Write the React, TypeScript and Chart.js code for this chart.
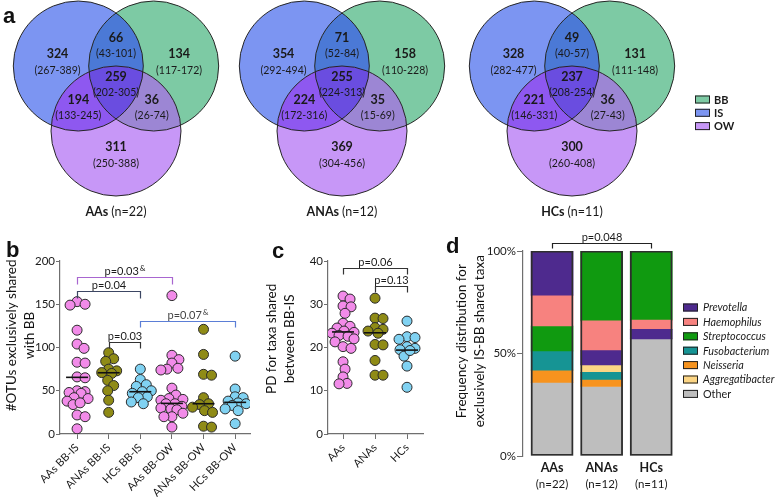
import React, { useEffect, useRef } from 'react';
import { Chart, registerables } from 'chart.js';
Chart.register(...registerables);

const FONT = 'Lato, "Open Sans", "DejaVu Sans", sans-serif';
const LETTER_FONT = '"Liberation Sans", Arial, sans-serif';

// ---------------- Panel a: Venn diagrams ----------------
const vennSetNames = ['BB', 'IS', 'OW'];
const vennGroups = ['AAs', 'ANAs', 'HCs'];
const vennGroupN = ['(n=22)', '(n=12)', '(n=11)'];
// region order: IS only, IS∩BB, BB only, IS∩BB∩OW, IS∩OW, BB∩OW, OW only
const aasVennCounts = [324, 66, 134, 259, 194, 36, 311];
const aasVennRanges = ['(267-389)', '(43-101)', '(117-172)', '(202-305)', '(133-245)', '(26-74)', '(250-388)'];
const anasVennCounts = [354, 71, 158, 255, 224, 35, 369];
const anasVennRanges = ['(292-494)', '(52-84)', '(110-228)', '(224-313)', '(172-316)', '(15-69)', '(304-456)'];
const hcsVennCounts = [328, 49, 131, 237, 221, 36, 300];
const hcsVennRanges = ['(282-477)', '(40-57)', '(111-148)', '(208-254)', '(146-331)', '(27-43)', '(260-408)'];

// ---------------- Panel b: #OTUs exclusively shared with BB ----------------
const otuCategories = ['AAs BB-IS', 'ANAs BB-IS', 'HCs BB-IS', 'AAs BB-OW', 'ANAs BB-OW', 'HCs BB-OW'];
const otuAAsBBIS = [153, 150, 149, 120, 104, 99, 83, 82, 66, 65, 50, 49, 48, 47, 42, 41, 38, 34, 22, 20, 6, 36];
const otuANAsBBIS = [94, 87, 84, 75, 73, 71, 70, 62, 56, 50, 39, 25];
const otuHCsBBIS = [75, 63, 57, 55, 50, 49, 47, 43, 42, 37, 35];
const otuAAsBBOW = [160, 91, 86, 82, 76, 75, 74, 53, 45, 41, 40, 39, 35, 35, 32, 30, 29, 28, 24, 20, 20, 8];
const otuANAsBBOW = [121, 92, 69, 68, 42, 35, 34, 31, 27, 25, 9, 8];
const otuHCsBBOW = [90, 52, 43, 42, 38, 36, 35, 33, 29, 27, 12];
const otuMeans = [65.5, 70.8, 48.9, 35.4, 35, 36.6];
const otuYTicksMax = 200;

// ---------------- Panel c: PD for taxa shared between BB-IS ----------------
const pdCategories = ['AAs', 'ANAs', 'HCs'];
const pdAAs = [31.9, 31.2, 29.6, 29.4, 27.9, 25.6, 24.9, 24.5, 23.8, 23.5, 23.3, 22.8, 22.6, 22.0, 21.3, 20.2, 19.8, 16.7, 15.0, 13.2, 11.7, 11.6];
const pdANAs = [31.4, 26.8, 26.7, 24.6, 24.2, 23.8, 23.3, 20.7, 20.6, 17.0, 13.6, 13.6];
const pdHCs = [26.1, 22.5, 22.3, 21.9, 20.2, 19.8, 19.5, 18.0, 15.7, 10.8, 19.3];
const pdMeans = [23.6, 23.4, 19.4];
const pdYTicksMax = 40;

// ---------------- Panel d: frequency distribution ----------------
const freqGroups = ['AAs', 'ANAs', 'HCs'];
const freqGroupN = ['(n=22)', '(n=12)', '(n=11)'];
const taxa = ['Prevotella', 'Haemophilus', 'Streptococcus', 'Fusobacterium', 'Neisseria', 'Aggregatibacter', 'Other'];
const prevotellaPct = [21.5, 7.0, 4.7];
const haemophilusPct = [15.1, 14.5, 4.5];
const streptococcusPct = [12.2, 34.1, 33.7];
const fusobacteriumPct = [9.3, 3.4, 0];
const neisseriaPct = [6.0, 3.5, 0];
const aggregatibacterPct = [0, 3.6, 0];
const otherPct = [35.9, 33.9, 57.1];
const stackOrderAAs = ['Other', 'Neisseria', 'Fusobacterium', 'Streptococcus', 'Haemophilus', 'Prevotella'];
const stackOrderANAs = ['Other', 'Neisseria', 'Fusobacterium', 'Aggregatibacter', 'Prevotella', 'Haemophilus', 'Streptococcus'];
const stackOrderHCs = ['Other', 'Prevotella', 'Haemophilus', 'Streptococcus'];

// ---------------- styles ----------------
const VENN_COLORS: Record<string, string> = {
  IS: '#7C95F2', BB: '#7DCAA4', OW: '#C797F7',
  ISBB: '#4B79D6', ISOW: '#8E58F0', BBOW: '#9C86D4', ALL: '#6A4DE0',
};
const VENN_GEOM: Record<string, [number, number]> = { IS: [-0.58, 0], BB: [0.58, 0], OW: [0, -1.0] };
const VENN_LABEL_POS: Array<[number, number]> = [[-0.9, 0.18], [0, 0.43], [0.97, 0.18], [0, -0.17], [-0.58, -0.52], [0.55, -0.52], [0, -1.25]];
const VENN_PX = 65;
const GROUP_COLORS = ['#F28BE9', '#8F8B16', '#80D2F2'];
const TAXA_COLORS = ['#4E2A8E', '#F7827F', '#109A10', '#169494', '#F7931E', '#FCD584', '#BEBEBE'];
const AXIS_COLOR = '#6f6f6f';

type Bracket = { from: number; to: number; level: number; label: string; sup?: string; color: string; textColor: string; leg: number };

function swarm(values: number[], pxX: number, pxY: number, dist: number, maxOff: number): number[] {
  const idx = values.map((_, i) => i).sort((a, b) => values[b] - values[a]);
  const placed: Array<[number, number]> = [];
  const offs = new Array(values.length).fill(0);
  for (const i of idx) {
    const yy = values[i] * pxY;
    let chosen = 0;
    let best = Infinity;
    for (let k = 0; k <= 2 * maxOff; k++) {
      const c = k === 0 ? 0 : (k % 2 ? 1 : -1) * Math.ceil(k / 2);
      let overlap = 0;
      for (const [px, py] of placed) {
        const d = Math.hypot(px - c, py - yy);
        if (d < dist) overlap = Math.max(overlap, dist - d);
      }
      if (overlap === 0) { chosen = c; best = 0; break; }
      if (overlap < best) { best = overlap; chosen = c; }
    }
    placed.push([chosen, yy]);
    offs[i] = chosen / pxX;
  }
  return offs;
}

function bracketPlugin(items: Bracket[]) {
  return {
    id: 'brackets',
    afterDraw(chart: any) {
      const { ctx } = chart;
      const xs = chart.scales.x;
      const ys = chart.scales.y;
      ctx.save();
      for (const b of items) {
        const x1 = Math.round(xs.getPixelForValue(b.from)) + 0.5;
        const x2 = Math.round(xs.getPixelForValue(b.to)) + 0.5;
        const y = Math.round(ys.getPixelForValue(b.level)) + 0.5;
        ctx.strokeStyle = b.color;
        ctx.lineWidth = 1.2;
        ctx.beginPath();
        ctx.moveTo(x1, y + b.leg);
        ctx.lineTo(x1, y);
        ctx.lineTo(x2, y);
        ctx.lineTo(x2, y + b.leg);
        ctx.stroke();
        ctx.font = `11px ${FONT}`;
        const w = ctx.measureText(b.label).width;
        ctx.font = `8px ${FONT}`;
        const sw = b.sup ? ctx.measureText(b.sup).width + 1 : 0;
        const cx = (x1 + x2) / 2;
        const start = cx - (w + sw) / 2;
        ctx.fillStyle = b.textColor;
        ctx.textAlign = 'left';
        ctx.textBaseline = 'alphabetic';
        ctx.font = `11px ${FONT}`;
        ctx.fillText(b.label, start, y - 3);
        if (b.sup) {
          ctx.font = `8px ${FONT}`;
          ctx.fillText(b.sup, start + w + 1, y - 7);
        }
      }
      ctx.restore();
    },
  };
}

function yTitlePlugin(lines: string[], firstX: number, gap: number, frac: number, size: number) {
  return {
    id: 'ytitle',
    afterDraw(chart: any) {
      const { ctx, chartArea } = chart;
      const cy = chartArea.top + frac * (chartArea.bottom - chartArea.top);
      ctx.save();
      ctx.font = `${size}px ${FONT}`;
      ctx.fillStyle = '#111';
      ctx.textAlign = 'center';
      ctx.textBaseline = 'middle';
      lines.forEach((l, i) => {
        ctx.save();
        ctx.translate(firstX + i * gap, cy);
        ctx.rotate(-Math.PI / 2);
        ctx.fillText(l, 0, 0);
        ctx.restore();
      });
      ctx.restore();
    },
  };
}

function vennPlugin(counts: number[], ranges: string[], group: string, n: string, withLegend: boolean) {
  return {
    id: 'venn',
    afterDraw(chart: any) {
      const { ctx } = chart;
      const xs = chart.scales.x;
      const ys = chart.scales.y;
      const rx = xs.getPixelForValue(1) - xs.getPixelForValue(0);
      const ry = ys.getPixelForValue(0) - ys.getPixelForValue(1);
      const path = (k: string) => {
        const [cx, cy] = VENN_GEOM[k];
        ctx.beginPath();
        ctx.ellipse(xs.getPixelForValue(cx), ys.getPixelForValue(cy), rx, ry, 0, 0, Math.PI * 2);
      };
      const fill = (k: string, color: string, clips: string[]) => {
        ctx.save();
        for (const c of clips) { path(c); ctx.clip(); }
        path(k);
        ctx.fillStyle = color;
        ctx.fill();
        ctx.restore();
      };
      fill('IS', VENN_COLORS.IS, []);
      fill('BB', VENN_COLORS.BB, []);
      fill('OW', VENN_COLORS.OW, []);
      fill('BB', VENN_COLORS.ISBB, ['IS']);
      fill('OW', VENN_COLORS.ISOW, ['IS']);
      fill('OW', VENN_COLORS.BBOW, ['BB']);
      fill('OW', VENN_COLORS.ALL, ['IS', 'BB']);
      ctx.save();
      ctx.strokeStyle = '#262626';
      ctx.lineWidth = 1;
      ['IS', 'BB', 'OW'].forEach((k) => { path(k); ctx.stroke(); });
      ctx.restore();

      ctx.save();
      ctx.fillStyle = '#1a1a1a';
      ctx.textAlign = 'center';
      ctx.textBaseline = 'middle';
      counts.forEach((c, i) => {
        const [ux, uy] = VENN_LABEL_POS[i];
        const px = xs.getPixelForValue(ux);
        const py = ys.getPixelForValue(uy);
        ctx.font = `bold 12.5px ${FONT}`;
        ctx.fillText(String(c), px, py);
        ctx.font = `10.5px ${FONT}`;
        ctx.fillText(ranges[i], px, py + 16);
      });
      const gx = xs.getPixelForValue(0);
      const gy = ys.getPixelForValue(-2.25);
      ctx.font = `bold 12.5px ${FONT}`;
      const w1 = ctx.measureText(group + ' ').width;
      ctx.font = `12.5px ${FONT}`;
      const w2 = ctx.measureText(n).width;
      const st = gx - (w1 + w2) / 2;
      ctx.textAlign = 'left';
      ctx.font = `bold 12.5px ${FONT}`;
      ctx.fillText(group, st, gy);
      ctx.font = `12.5px ${FONT}`;
      ctx.fillText(n, st + w1, gy);
      ctx.restore();

      if (withLegend) {
        ctx.save();
        vennSetNames.forEach((name, i) => {
          const cy = 99.5 + i * 13.3;
          ctx.fillStyle = VENN_COLORS[name];
          ctx.fillRect(236, cy - 4, 15, 8);
          ctx.strokeStyle = '#222';
          ctx.lineWidth = 1;
          ctx.strokeRect(236.5, cy - 3.5, 14, 7);
          ctx.fillStyle = '#1a1a1a';
          ctx.font = `bold 11px ${FONT}`;
          ctx.textAlign = 'left';
          ctx.textBaseline = 'middle';
          ctx.fillText(name, 255, cy + 0.5);
        });
        ctx.restore();
      }
    },
  };
}

function buildVenn(canvas: HTMLCanvasElement, idx: number, width: number, height: number) {
  const counts = [aasVennCounts, anasVennCounts, hcsVennCounts][idx];
  const ranges = [aasVennRanges, anasVennRanges, hcsVennRanges][idx];
  return new Chart(canvas, {
    type: 'scatter',
    data: { datasets: [] },
    options: {
      animation: false, responsive: false, devicePixelRatio: 1,
      layout: { padding: 0 },
      plugins: { legend: { display: false }, tooltip: { enabled: false } },
      scales: {
        x: { type: 'linear', display: false, min: -113 / VENN_PX, max: (width - 113) / VENN_PX },
        y: { type: 'linear', display: false, min: -(height - 66) / VENN_PX, max: 66 / VENN_PX },
      },
    },
    plugins: [vennPlugin(counts, ranges, vennGroups[idx], vennGroupN[idx], idx === 2)],
  } as any);
}

type DotCfg = {
  cats: string[]; groups: number[][]; means: number[]; colors: string[];
  yMax: number; yStep: number; xMin: number; xMax: number;
  width: number; height: number; padTop: number; padRight: number; yWidth: number; xHeight: number;
  brackets: Bracket[]; title: string[]; titleX: number; titleFrac: number;
};

function buildDotPlot(canvas: HTMLCanvasElement, cfg: DotCfg) {
  const plotW = cfg.width - cfg.padRight - cfg.yWidth;
  const plotH = cfg.height - cfg.padTop - cfg.xHeight;
  const pxX = plotW / (cfg.xMax - cfg.xMin);
  const pxY = plotH / cfg.yMax;
  const halfLine = 11 / pxX;
  const pointSets = cfg.groups.map((vals, gi) => {
    const offs = swarm(vals, pxX, pxY, 7.6, 11);
    return {
      type: 'scatter',
      data: vals.map((v, i) => ({ x: gi + offs[i], y: v })),
      backgroundColor: cfg.colors[gi],
      borderColor: '#2b2b2b',
      borderWidth: 1,
      pointRadius: 5,
      pointHoverRadius: 5,
      order: 2,
    };
  });
  const meanSets = cfg.means.map((m, gi) => ({
    type: 'line',
    data: [{ x: gi - halfLine, y: m }, { x: gi + halfLine, y: m }],
    borderColor: '#111',
    borderWidth: 1.6,
    pointRadius: 0,
    fill: false,
    order: 1,
  }));
  return new Chart(canvas, {
    type: 'scatter',
    data: { datasets: [...meanSets, ...pointSets] },
    options: {
      animation: false, responsive: false, devicePixelRatio: 1,
      layout: { padding: { top: cfg.padTop, right: cfg.padRight, left: 0, bottom: 0 } },
      plugins: { legend: { display: false }, tooltip: { enabled: false } },
      scales: {
        x: {
          type: 'linear', min: cfg.xMin, max: cfg.xMax,
          afterBuildTicks: (s: any) => { s.ticks = cfg.cats.map((_, i) => ({ value: i })); },
          afterFit: (s: any) => { s.height = cfg.xHeight; },
          ticks: {
            callback: (v: any) => cfg.cats[v as number] ?? '',
            minRotation: 45, maxRotation: 45, autoSkip: false,
            font: { family: FONT, size: 11 }, color: '#1a1a1a', padding: 2,
          },
          grid: { display: true, drawOnChartArea: false, drawTicks: true, tickLength: 5, color: AXIS_COLOR },
          border: { display: true, color: AXIS_COLOR, width: 1.2 },
        },
        y: {
          type: 'linear', min: 0, max: cfg.yMax,
          afterFit: (s: any) => { s.width = cfg.yWidth; },
          ticks: { stepSize: cfg.yStep, font: { family: FONT, size: 11.5 }, color: '#1a1a1a', padding: 1 },
          grid: { display: true, drawOnChartArea: false, drawTicks: true, tickLength: 4, color: AXIS_COLOR },
          border: { display: true, color: AXIS_COLOR, width: 1.2 },
        },
      },
    },
    plugins: [bracketPlugin(cfg.brackets), yTitlePlugin(cfg.title, cfg.titleX, 18, cfg.titleFrac, 13.5)],
  } as any);
}

function buildFreq(canvas: HTMLCanvasElement) {
  const pctByTaxon: Record<string, number[]> = {
    Prevotella: prevotellaPct, Haemophilus: haemophilusPct, Streptococcus: streptococcusPct,
    Fusobacterium: fusobacteriumPct, Neisseria: neisseriaPct, Aggregatibacter: aggregatibacterPct, Other: otherPct,
  };
  const orders = [stackOrderAAs, stackOrderANAs, stackOrderHCs];
  const ranges: Record<string, Array<{ x: number; y: [number, number] }>> = {};
  taxa.forEach((t) => { ranges[t] = []; });
  orders.forEach((ord, g) => {
    let cum = 0;
    ord.forEach((t) => {
      const v = pctByTaxon[t][g];
      if (v > 0) ranges[t].push({ x: g, y: [cum, cum + v] });
      cum += v;
    });
  });
  const taxaSets = taxa.map((t, i) => ({
    label: t,
    data: ranges[t],
    backgroundColor: TAXA_COLORS[i],
    borderWidth: 0,
    barThickness: 42,
    grouped: false,
    order: 2,
  }));
  const outline = {
    label: 'total',
    data: freqGroups.map((_, g) => ({ x: g, y: [0, orders[g].reduce((s, t) => s + pctByTaxon[t][g], 0)] })),
    backgroundColor: 'rgba(0,0,0,0)',
    borderColor: '#2e2e2e',
    borderWidth: 1.2,
    borderSkipped: false,
    barThickness: 42,
    grouped: false,
    order: 1,
  };
  const legendPlugin = {
    id: 'taxaLegend',
    afterDraw(chart: any) {
      const { ctx } = chart;
      ctx.save();
      taxa.forEach((t, i) => {
        const cy = 307.5 - 225 + i * 14.4;
        ctx.fillStyle = TAXA_COLORS[i];
        ctx.fillRect(238, cy - 4, 15, 8);
        ctx.strokeStyle = '#222';
        ctx.lineWidth = 1;
        ctx.strokeRect(238.5, cy - 3.5, 14, 7);
        ctx.fillStyle = '#1a1a1a';
        ctx.font = `${t === 'Other' ? '' : 'italic '}10.8px ${FONT}`;
        ctx.textAlign = 'left';
        ctx.textBaseline = 'middle';
        ctx.fillText(t, 258, cy + 0.5);
      });
      const xs = chart.scales.x;
      ctx.font = `11.5px ${FONT}`;
      ctx.textAlign = 'center';
      freqGroupN.forEach((n, g) => {
        ctx.fillText(n, xs.getPixelForValue(g), chart.chartArea.bottom + 28);
      });
      ctx.restore();
    },
  };
  return new Chart(canvas, {
    type: 'bar',
    data: { datasets: [outline, ...taxaSets] },
    options: {
      animation: false, responsive: false, devicePixelRatio: 1,
      layout: { padding: { top: 26, right: 102, left: 0, bottom: 0 } },
      plugins: { legend: { display: false }, tooltip: { enabled: false } },
      scales: {
        x: {
          type: 'linear', min: -0.586, max: 2.5, offset: false,
          afterBuildTicks: (s: any) => { s.ticks = freqGroups.map((_, i) => ({ value: i })); },
          afterFit: (s: any) => { s.height = 41; },
          ticks: { callback: (v: any) => freqGroups[v as number] ?? '', font: { family: FONT, size: 12.5, weight: 'bold' }, color: '#1a1a1a', padding: 4, maxRotation: 0, autoSkip: false },
          grid: { display: false, drawTicks: false },
          border: { display: false },
        },
        y: {
          type: 'linear', min: 0, max: 100,
          afterFit: (s: any) => { s.width = 78; },
          ticks: { stepSize: 50, callback: (v: any) => `${v}%`, font: { family: FONT, size: 11.5 }, color: '#1a1a1a', padding: 1 },
          grid: { display: true, drawOnChartArea: false, drawTicks: true, tickLength: 6, color: AXIS_COLOR },
          border: { display: true, color: AXIS_COLOR, width: 1.2 },
        },
      },
    },
    plugins: [
      legendPlugin,
      bracketPlugin([{ from: 0, to: 2, level: 103.9, label: 'p=0.048', color: '#222', textColor: '#1a1a1a', leg: 5 }]),
      yTitlePlugin(['Frequency distribution for', 'exclusively IS-BB shared taxa'], 17, 18, 0.44, 13.5),
    ],
  } as any);
}

function ChartCanvas(props: { left: number; top: number; width: number; height: number; build: (c: HTMLCanvasElement) => Chart }) {
  const ref = useRef<HTMLCanvasElement>(null);
  useEffect(() => {
    const chart = props.build(ref.current as HTMLCanvasElement);
    return () => chart.destroy();
  }, []);
  return (
    <canvas
      ref={ref}
      width={props.width}
      height={props.height}
      style={{ position: 'absolute', left: props.left, top: props.top, width: props.width, height: props.height }}
    />
  );
}

function Letter(props: { ch: string; left: number; top: number }) {
  return (
    <div style={{ position: 'absolute', left: props.left, top: props.top, font: `bold 22px ${LETTER_FONT}`, lineHeight: '22px', color: '#111' }}>
      {props.ch}
    </div>
  );
}

export default function App() {
  const bCfg: DotCfg = {
    cats: otuCategories,
    groups: [otuAAsBBIS, otuANAsBBIS, otuHCsBBIS, otuAAsBBOW, otuANAsBBOW, otuHCsBBOW],
    means: otuMeans,
    colors: [GROUP_COLORS[0], GROUP_COLORS[1], GROUP_COLORS[2], GROUP_COLORS[0], GROUP_COLORS[1], GROUP_COLORS[2]],
    yMax: otuYTicksMax, yStep: 50, xMin: -0.54, xMax: 5.47,
    width: 262, height: 267, padTop: 31, padRight: 12, yWidth: 60, xHeight: 63,
    brackets: [
      { from: 0, to: 3, level: 182, label: 'p=0.03', sup: '&', color: '#A866D0', textColor: '#1a1a1a', leg: 7 },
      { from: 0, to: 2, level: 165, label: 'p=0.04', color: '#3C4663', textColor: '#1a1a1a', leg: 7 },
      { from: 2, to: 5, level: 130.5, label: 'p=0.07', sup: '&', color: '#5B7ED6', textColor: '#444', leg: 6 },
      { from: 1, to: 2, level: 106.5, label: 'p=0.03', color: '#333', textColor: '#1a1a1a', leg: 6 },
    ],
    title: ['#OTUs exclusively shared', 'with BB'],
    titleX: 12, titleFrac: 0.43,
  };
  const cCfg: DotCfg = {
    cats: pdCategories,
    groups: [pdAAs, pdANAs, pdHCs],
    means: pdMeans,
    colors: GROUP_COLORS,
    yMax: pdYTicksMax, yStep: 10, xMin: -0.47, xMax: 2.5,
    width: 183, height: 267, padTop: 31, padRight: 22, yWidth: 66, xHeight: 63,
    brackets: [
      { from: 0, to: 2, level: 38.3, label: 'p=0.06', color: '#333', textColor: '#1a1a1a', leg: 6 },
      { from: 1, to: 2, level: 34.2, label: 'p=0.13', color: '#333', textColor: '#1a1a1a', leg: 6 },
    ],
    title: ['PD for taxa shared', 'between BB-IS'],
    titleX: 10, titleFrac: 0.45,
  };
  return (
    <div style={{ position: 'fixed', left: 0, top: 0, width: 778, height: 497, background: '#fff', overflow: 'hidden' }}>
      <ChartCanvas left={3} top={0} width={226} height={225} build={(c) => buildVenn(c, 0, 226, 225)} />
      <ChartCanvas left={229} top={0} width={226} height={225} build={(c) => buildVenn(c, 1, 226, 225)} />
      <ChartCanvas left={459} top={0} width={319} height={225} build={(c) => buildVenn(c, 2, 319, 225)} />
      <ChartCanvas left={0} top={230} width={262} height={267} build={(c) => buildDotPlot(c, bCfg)} />
      <ChartCanvas left={262} top={230} width={183} height={267} build={(c) => buildDotPlot(c, cCfg)} />
      <ChartCanvas left={445} top={225} width={333} height={272} build={(c) => buildFreq(c)} />
      <Letter ch="a" left={3} top={5} />
      <Letter ch="b" left={6} top={239} />
      <Letter ch="c" left={272} top={240} />
      <Letter ch="d" left={446} top={235} />
    </div>
  );
}
